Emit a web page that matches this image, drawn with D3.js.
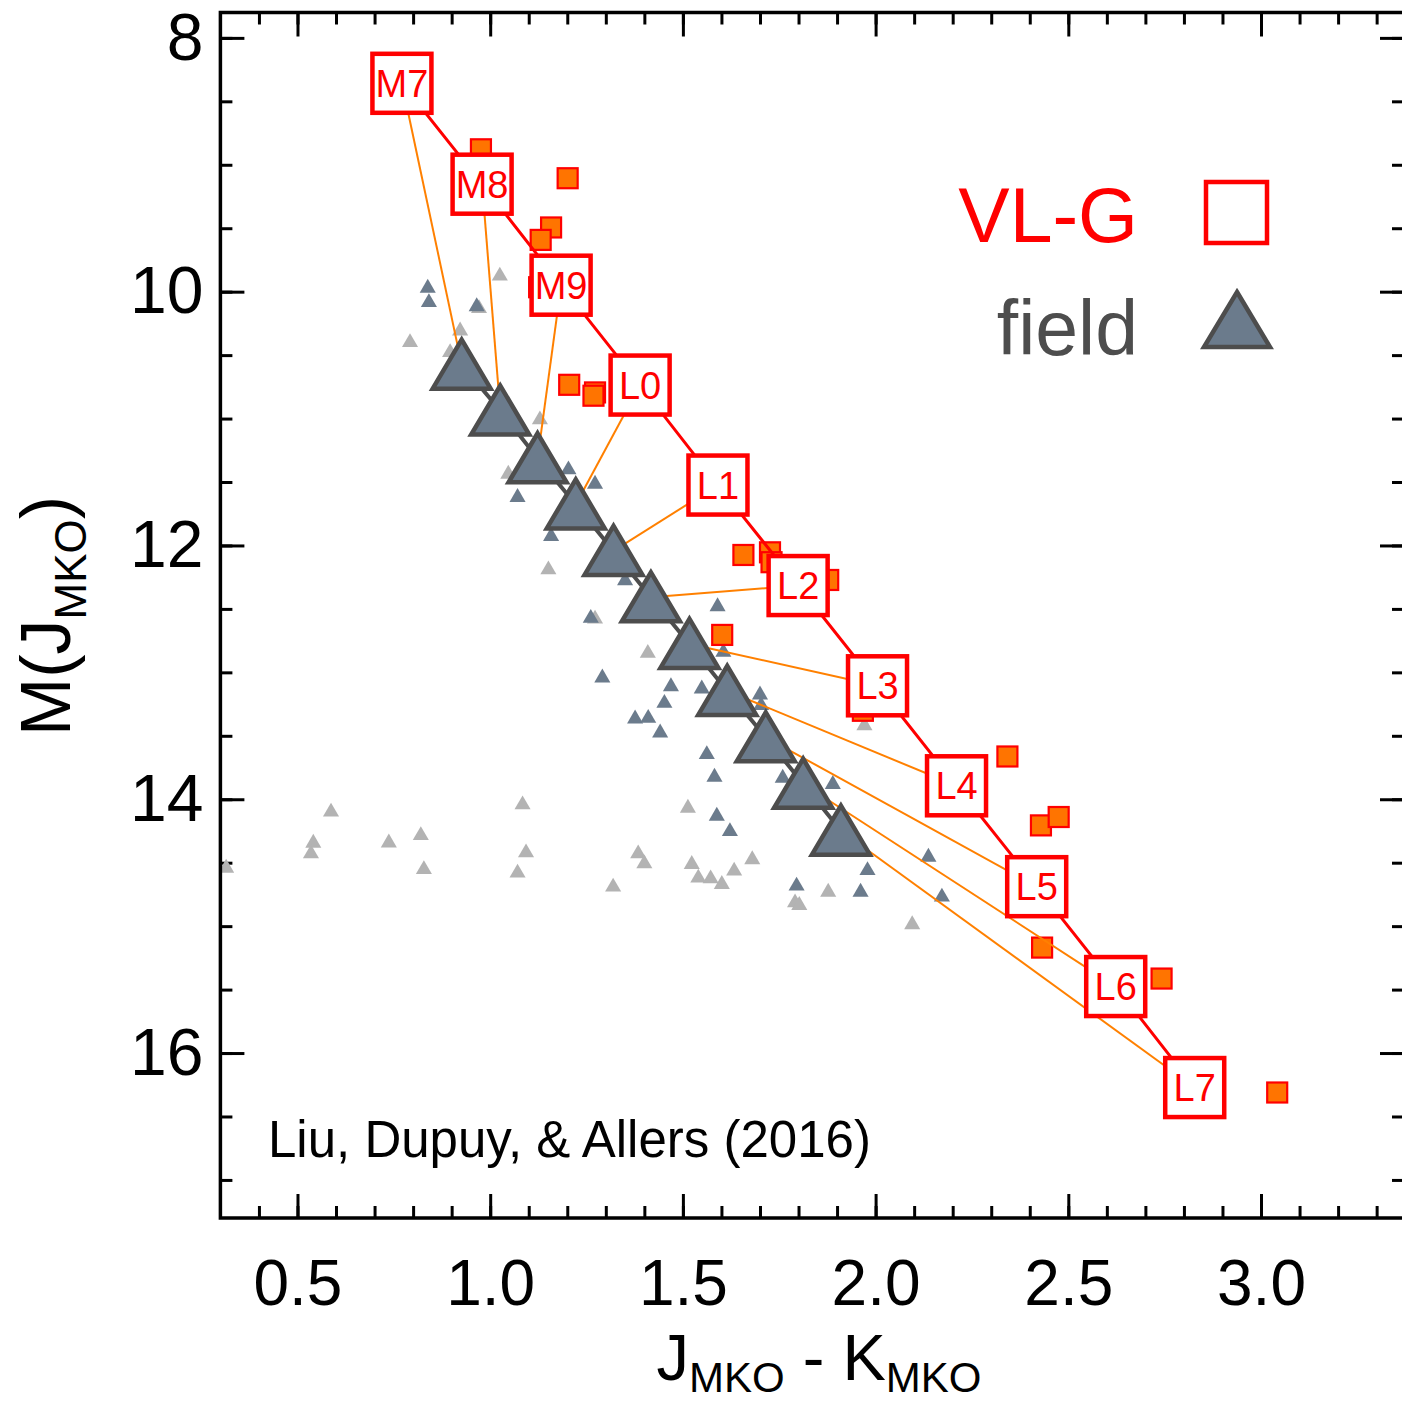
<!DOCTYPE html>
<html>
<head>
<meta charset="utf-8">
<script src="https://cdn.jsdelivr.net/npm/d3@7"></script>
<style>
  html, body { margin: 0; padding: 0; background: #fff; overflow: hidden; }
  svg text { font-family: "Liberation Sans", Arial, Helvetica, sans-serif; }
</style>
</head>
<body>
<div id="chart"></div>
<script>
"use strict";

// spectral-type sequence, VL-G (red boxes) and field (big triangles)
const spTypes    = ["M7", "M8", "M9", "L0", "L1", "L2", "L3", "L4", "L5", "L6", "L7"];
const vlgColor   = [0.771, 0.979, 1.184, 1.389, 1.591, 1.799, 2.005, 2.210, 2.418, 2.623, 2.828];
const vlgMag     = [8.358, 9.153, 9.949, 10.736, 11.524, 12.316, 13.106, 13.894, 14.689, 15.476, 16.272];
const fieldColor = [0.926, 1.026, 1.123, 1.222, 1.320, 1.417, 1.517, 1.615, 1.715, 1.812, 1.910];
const fieldMag   = [10.575, 10.937, 11.313, 11.677, 12.043, 12.409, 12.776, 13.146, 13.512, 13.878, 14.248];

// individual VL-G objects [J-K, M(J)]
const vlgObjects = [
    [0.976, 8.878], [1.018, 9.295], [1.201, 9.106], [1.158, 9.494], [1.131, 9.592],
    [1.127, 9.965], [1.205, 10.734], [1.272, 10.794], [1.268, 10.820], [1.657, 12.075],
    [1.726, 12.054], [1.730, 12.132], [1.877, 12.272], [1.602, 12.705], [1.967, 13.303],
    [2.342, 13.663], [2.429, 14.206], [2.475, 14.140], [2.432, 15.169], [2.742, 15.413],
    [3.042, 16.311]
];

// individual field objects [J-K, M(J)]
const fieldObjects = [
    [0.838, 9.972], [0.841, 10.085], [0.965, 10.117], [1.203, 11.403], [1.272, 11.516],
    [1.071, 11.620], [1.158, 11.928], [1.261, 12.573], [1.590, 12.482], [1.605, 12.841],
    [1.291, 13.043], [1.469, 13.112], [1.549, 13.130], [1.452, 13.243], [1.376, 13.366],
    [1.410, 13.361], [1.441, 13.476], [1.700, 13.177], [1.703, 13.261], [1.562, 13.647],
    [1.582, 13.825], [1.759, 13.833], [1.889, 13.883], [1.350, 12.277], [1.588, 14.132],
    [1.622, 14.254], [1.795, 14.683], [1.979, 14.561], [1.961, 14.731], [2.137, 14.455],
    [2.172, 14.770]
];

// other objects (grey) [J-K, M(J)]
const otherObjects = [
    [0.587, 14.100], [0.541, 14.345], [0.535, 14.429], [0.737, 14.343], [0.820, 14.285],
    [0.828, 14.553], [1.084, 14.043], [1.093, 14.421], [1.071, 14.581], [1.319, 14.691],
    [1.384, 14.429], [1.400, 14.508], [0.315, 14.542], [1.513, 14.069], [1.523, 14.513],
    [1.540, 14.620], [1.572, 14.626], [1.601, 14.670], [1.633, 14.565], [1.680, 14.476],
    [1.791, 14.815], [1.802, 14.836], [1.877, 14.731], [2.095, 14.988], [1.409, 12.849],
    [1.971, 13.419], [1.025, 9.876], [0.922, 10.309], [0.792, 10.400], [0.896, 10.479],
    [1.129, 11.009], [1.047, 11.437], [1.151, 12.191], [0.971, 10.132], [1.272, 12.579]
];

const xDomain     = [0.3, 3.371];
const yDomain     = [7.8, 17.3];
const xMajorTicks = [0.5, 1.0, 1.5, 2.0, 2.5, 3.0];
const xMinorTicks = d3.range(4, 34).map(d => d / 10);
const yMajorTicks = [8, 10, 12, 14, 16];
const yMinorTicks = d3.range(16, 35).map(d => d / 2);

const W = 1402, H = 1404;
// right spine sits just past the picture edge, as in the original
const plot = { left: 220.4, right: 1404, top: 12.5, bottom: 1218 };

const RED = "#ff0000", ORANGE = "#ff8000", SQFILL = "#ff7400";
const SLATE = "#6b7b8c", DARK = "#4d4d4d", GREY = "#b3b3b3";

const svg = d3.select("#chart").append("svg")
    .attr("width", W)
    .attr("height", H);

const x = d3.scaleLinear().domain(xDomain).range([plot.left, plot.right]);
const y = d3.scaleLinear().domain(yDomain).range([plot.top, plot.bottom]);

// ---- axes (ticks point inward on all four sides)
function styleAxis(g, size) {
    g.select(".domain").remove();
    g.selectAll(".tick line").attr("stroke", "#000").attr("stroke-width", 3);
    g.selectAll("text").attr("fill", "#000").attr("font-size", size);
}

function addAxis(axis, tx, ty, size) {
    svg.append("g")
        .attr("transform", `translate(${tx},${ty})`)
        .call(axis)
        .call(g => styleAxis(g, size));
}

addAxis(d3.axisBottom(x).tickValues(xMinorTicks).tickSizeInner(-12).tickSizeOuter(0).tickFormat(""), 0, plot.bottom, 0);
addAxis(d3.axisBottom(x).tickValues(xMajorTicks).tickSizeInner(-24).tickSizeOuter(0)
    .tickPadding(42).tickFormat(d3.format(".1f")), 0, plot.bottom, 64);

addAxis(d3.axisTop(x).tickValues(xMinorTicks).tickSizeInner(-12).tickSizeOuter(0).tickFormat(""), 0, plot.top, 0);
addAxis(d3.axisTop(x).tickValues(xMajorTicks).tickSizeInner(-24).tickSizeOuter(0).tickFormat(""), 0, plot.top, 0);

addAxis(d3.axisLeft(y).tickValues(yMinorTicks).tickSizeInner(-12).tickSizeOuter(0).tickFormat(""), plot.left, 0, 0);
addAxis(d3.axisLeft(y).tickValues(yMajorTicks).tickSizeInner(-24).tickSizeOuter(0)
    .tickPadding(17).tickFormat(d3.format("d")), plot.left, 0, 66);

addAxis(d3.axisRight(y).tickValues(yMinorTicks).tickSizeInner(-12).tickSizeOuter(0).tickFormat(""), plot.right, 0, 0);
addAxis(d3.axisRight(y).tickValues(yMajorTicks).tickSizeInner(-24).tickSizeOuter(0).tickFormat(""), plot.right, 0, 0);

// ---- data layer (clipped to frame)
svg.append("clipPath").attr("id", "clip")
    .append("rect")
    .attr("x", plot.left).attr("y", plot.top)
    .attr("width", plot.right - plot.left).attr("height", plot.bottom - plot.top);

const layer = svg.append("g").attr("clip-path", "url(#clip)");

const smallTri = d3.symbol().type(d3.symbolTriangle).size(112);

layer.selectAll(".other").data(otherObjects).enter()
    .append("path")
    .attr("class", "other")
    .attr("d", smallTri)
    .attr("transform", d => `translate(${x(d[0])},${y(d[1])})`)
    .attr("fill", GREY);

layer.selectAll(".field").data(fieldObjects).enter()
    .append("path")
    .attr("class", "field")
    .attr("d", smallTri)
    .attr("transform", d => `translate(${x(d[0])},${y(d[1])})`)
    .attr("fill", SLATE);

layer.selectAll(".vlg").data(vlgObjects).enter()
    .append("rect")
    .attr("class", "vlg")
    .attr("x", d => x(d[0]) - 10)
    .attr("y", d => y(d[1]) - 10)
    .attr("width", 20)
    .attr("height", 20)
    .attr("fill", SQFILL)
    .attr("stroke", RED)
    .attr("stroke-width", 2.2);

// orange tie lines from each VL-G box to the field triangle of the same type
const seq = spTypes.map((t, i) => ({
    type: t,
    vx: vlgColor[i], vy: vlgMag[i],
    fx: fieldColor[i], fy: fieldMag[i]
}));

layer.selectAll(".tie").data(seq).enter()
    .append("line")
    .attr("class", "tie")
    .attr("x1", d => x(d.vx)).attr("y1", d => y(d.vy))
    .attr("x2", d => x(d.fx)).attr("y2", d => y(d.fy))
    .attr("stroke", ORANGE)
    .attr("stroke-width", 2);

// field sequence
layer.append("path")
    .datum(seq)
    .attr("d", d3.line().x(d => x(d.fx)).y(d => y(d.fy)))
    .attr("fill", "none")
    .attr("stroke", DARK)
    .attr("stroke-width", 4);

const bigTri = "M0,-25L29,24L-29,24Z";
layer.selectAll(".bigtri").data(seq).enter()
    .append("path")
    .attr("class", "bigtri")
    .attr("d", bigTri)
    .attr("transform", d => `translate(${x(d.fx)},${y(d.fy)})`)
    .attr("fill", SLATE)
    .attr("stroke", DARK)
    .attr("stroke-width", 4.5)
    .attr("stroke-linejoin", "miter");

// VL-G sequence
layer.append("path")
    .datum(seq)
    .attr("d", d3.line().x(d => x(d.vx)).y(d => y(d.vy)))
    .attr("fill", "none")
    .attr("stroke", RED)
    .attr("stroke-width", 3);

const boxes = layer.selectAll(".box").data(seq).enter()
    .append("g")
    .attr("class", "box")
    .attr("transform", d => `translate(${x(d.vx)},${y(d.vy)})`);

boxes.append("rect")
    .attr("x", -29.5).attr("y", -29.5)
    .attr("width", 59).attr("height", 59)
    .attr("fill", "#fff")
    .attr("stroke", RED)
    .attr("stroke-width", 4.5);

boxes.append("text")
    .attr("text-anchor", "middle")
    .attr("dy", "0.36em")
    .attr("font-size", 38)
    .attr("fill", RED)
    .text(d => d.type);

// ---- frame
svg.append("rect")
    .attr("x", plot.left).attr("y", plot.top)
    .attr("width", plot.right - plot.left).attr("height", plot.bottom - plot.top)
    .attr("fill", "none")
    .attr("stroke", "#000")
    .attr("stroke-width", 3.5);

// ---- legend
const legend = svg.append("g");
legend.append("text")
    .attr("x", 1138).attr("y", 242)
    .attr("text-anchor", "end")
    .attr("font-size", 77)
    .attr("fill", RED)
    .text("VL-G");
legend.append("rect")
    .attr("x", 1206).attr("y", 182)
    .attr("width", 61).attr("height", 61)
    .attr("fill", "none")
    .attr("stroke", RED)
    .attr("stroke-width", 4.5);
legend.append("text")
    .attr("x", 1138).attr("y", 355)
    .attr("text-anchor", "end")
    .attr("font-size", 77)
    .attr("fill", DARK)
    .text("field");
legend.append("path")
    .attr("d", "M0,-27L33,28L-33,28Z")
    .attr("transform", "translate(1237,319)")
    .attr("fill", SLATE)
    .attr("stroke", DARK)
    .attr("stroke-width", 4.5);

// ---- reference note
svg.append("text")
    .attr("x", 268).attr("y", 1157)
    .attr("font-size", 51)
    .attr("fill", "#000")
    .text("Liu, Dupuy, & Allers (2016)");

// ---- axis titles
const xTitle = svg.append("text")
    .attr("x", 819).attr("y", 1380)
    .attr("text-anchor", "middle")
    .attr("font-size", 65)
    .attr("fill", "#000");
xTitle.append("tspan").text("J");
xTitle.append("tspan").attr("font-size", 42).attr("dy", 12).text("MKO");
xTitle.append("tspan").attr("dy", -12).text(" - K");
xTitle.append("tspan").attr("font-size", 42).attr("dy", 12).text("MKO");

const yTitle = svg.append("text")
    .attr("transform", "translate(70,616) rotate(-90)")
    .attr("text-anchor", "middle")
    .attr("font-size", 70)
    .attr("fill", "#000");
yTitle.append("tspan").text("M(J");
yTitle.append("tspan").attr("font-size", 44).attr("dy", 16).text("MKO");
yTitle.append("tspan").attr("dy", -16).text(")");
</script>
</body>
</html>
